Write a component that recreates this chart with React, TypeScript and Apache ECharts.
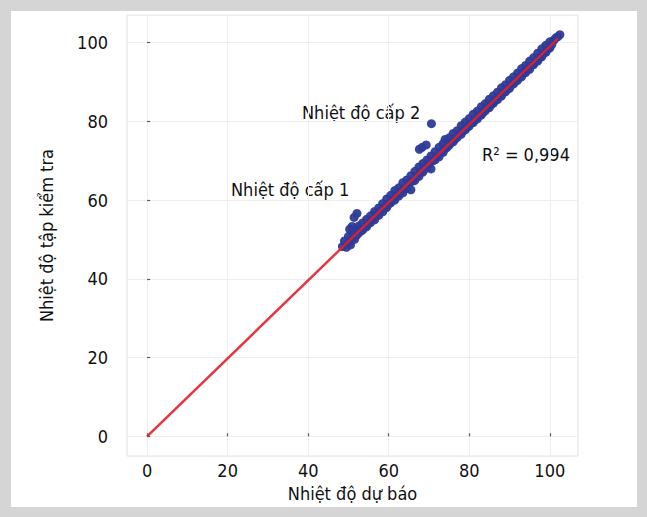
import React, { useEffect, useRef } from "react";
import * as echarts from "echarts";

const xTicks = [0, 20, 40, 60, 80, 100];
const xName = "Nhiệt độ dự báo";
const yName = "Nhiệt độ tập kiểm tra";
const label1 = "Nhiệt độ cấp 1";
const label2 = "Nhiệt độ cấp 2";
const r2Label = "R² = 0,994";

// main scatter band (predicted, test)
const bandPoints: [number, number][] = [
  [48.5, 48.2], [49, 49.6], [49.5, 48.0], [50, 50.8], [50, 49.1], [50.5, 48.6],
  [51, 51.9], [51, 50.2], [51.5, 50.0], [52, 52.6], [52, 51.0], [52.5, 53.4],
  [52.5, 51.6], [53, 52.1], [53.5, 54.2], [53.5, 52.4], [54, 53.0], [54.5, 55.1],
  [54.5, 53.2], [55, 54.0], [55.5, 56.0], [55.5, 54.3], [56, 55.2], [56.5, 57.1],
  [56.5, 55.0], [57, 56.3], [57.5, 58.0], [57.5, 56.1], [58, 57.2], [58.5, 59.1],
  [58.5, 57.0], [59, 58.2], [59.5, 60.3], [59.5, 58.1], [60, 59.0], [60.5, 61.2],
  [60.5, 59.3], [61, 60.1], [61.5, 62.4], [61.5, 60.0], [62, 61.2], [62.5, 63.1],
  [62.5, 61.0], [63, 62.2], [63.5, 64.4], [63.5, 61.8], [64, 62.8], [64.5, 65.1],
  [64.5, 63.0], [65, 64.3], [65.5, 62.6], [65.5, 66.2], [66, 64.8], [66.5, 67.3],
  [66.5, 65.0], [67, 66.1], [67.5, 68.4], [67.5, 66.0], [68, 67.2], [68.5, 69.3],
  [68.5, 67.1], [69, 68.0], [69.5, 70.2], [69.5, 68.3], [70, 69.1], [70.5, 67.9],
  [70.5, 71.2], [71, 70.0], [71.5, 72.3], [71.5, 70.2], [72, 71.1], [72.5, 73.4],
  [72.5, 71.0], [73, 72.2], [73.5, 74.3], [73.5, 72.1], [74, 75.4], [74, 73.0],
  [74.5, 73.4], [75, 75.8], [75, 73.9], [75.5, 74.6], [76, 76.9], [76, 74.8],
  [76.5, 75.5], [77, 77.6], [77, 75.9], [77.5, 76.8], [78, 78.9], [78, 76.7],
  [78.5, 77.6], [79, 79.8], [79, 77.8], [79.5, 78.5], [80, 80.7], [80, 78.8],
  [80.5, 79.6], [81, 81.8], [81, 79.7], [81.5, 80.4], [82, 82.6], [82, 80.6],
  [82.5, 81.5], [83, 83.7], [83, 81.6], [83.5, 82.3], [84, 84.5], [84, 82.7],
  [84.5, 83.4], [85, 85.6], [85, 83.5], [85.5, 84.3], [86, 86.5], [86, 84.6],
  [86.5, 85.4], [87, 87.4], [87, 85.5], [87.5, 86.3], [88, 88.5], [88, 86.4],
  [88.5, 87.4], [89, 89.3], [89, 87.5], [89.5, 88.2], [90, 90.4], [90, 88.4],
  [90.5, 89.3], [91, 91.3], [91, 89.5], [91.5, 90.2], [92, 92.3], [92, 90.4],
  [92.5, 91.3], [93, 93.4], [93, 91.3], [93.5, 92.3], [94, 94.2], [94, 92.4],
  [94.5, 93.3], [95, 95.3], [95, 93.2], [95.5, 94.3], [96, 96.2], [96, 94.4],
  [96.5, 95.2], [97, 97.3], [97, 95.3], [97.5, 96.2], [98, 98.4], [98, 96.4],
  [98.5, 97.3], [99, 99.3], [99, 97.5], [99.5, 98.4], [100, 100.2], [100, 98.6],
  [100.5, 99.5], [101, 100.6], [101.5, 101.2], [102, 101.5], [102.5, 102.0],
];

// outliers
const level1Points: [number, number][] = [
  [52.1, 56.6], [51.4, 55.6], [50.9, 53.3], [50.3, 52.6],
];
const level2Points: [number, number][] = [
  [70.6, 79.4], [68.3, 73.4], [67.6, 72.9], [69.3, 74.0],
];

// regression line endpoints
const fitLine: [number, number][] = [
  [0, 0],
  [102, 101],
];

const FONT = "'Liberation Sans Narrow', 'DejaVu Sans Condensed', 'Roboto', sans-serif";

export default function App() {
  const ref = useRef<HTMLDivElement>(null);

  useEffect(() => {
    if (!ref.current) return;
    const chart = echarts.init(ref.current, undefined, { renderer: "svg" });
    const axisCommon = {
      type: "value" as const,
      min: -5,
      max: 107,
      splitNumber: 5,
      axisLine: { show: false },
      axisTick: { show: true, inside: true, length: 3, lineStyle: { color: "#555", width: 1.2 } },
      splitLine: { show: true, lineStyle: { color: "#eeeeee", width: 1 } },
      nameLocation: "middle" as const,
      nameTextStyle: { fontFamily: FONT, fontSize: 18, color: "#111" },
    };
    chart.setOption({
      animation: false,
      backgroundColor: "transparent",
      grid: {
        left: 127,
        top: 15,
        width: 451,
        height: 441,
        show: true,
        borderColor: "#e2e2e2",
        borderWidth: 1,
        backgroundColor: "#ffffff",
      },
      xAxis: {
        ...axisCommon,
        name: xName,
        nameGap: 28,
        axisLabel: {
          fontFamily: FONT,
          fontSize: 18,
          color: "#111",
          margin: 5,
          showMinLabel: false,
          showMaxLabel: false,
          formatter: (v: number) => (xTicks.includes(v) ? String(v) : ""),
        },
      },
      yAxis: {
        ...axisCommon,
        name: yName,
        nameGap: 72,
        axisLabel: {
          fontFamily: FONT,
          fontSize: 18,
          color: "#111",
          margin: 19,
          showMinLabel: false,
          showMaxLabel: false,
          formatter: (v: number) => (xTicks.includes(v) ? String(v) : ""),
        },
      },
      series: [
        {
          type: "scatter",
          data: bandPoints,
          symbolSize: 9,
          itemStyle: { color: "#2e3b98", opacity: 0.95 },
          z: 2,
        },
        {
          type: "scatter",
          data: level1Points,
          symbolSize: 9,
          itemStyle: { color: "#2e3b98", opacity: 0.95 },
          z: 2,
        },
        {
          type: "scatter",
          data: level2Points,
          symbolSize: 9,
          itemStyle: { color: "#2e3b98", opacity: 0.95 },
          z: 2,
        },
        {
          type: "line",
          data: fitLine,
          showSymbol: false,
          symbol: "none",
          lineStyle: { color: "#e41f2a", width: 2.5, opacity: 0.9 },
          z: 5,
        },
      ],
      graphic: [
        {
          type: "text",
          left: 231,
          top: 180,
          style: { text: label1, fontFamily: FONT, fontSize: 18, fill: "#111" },
        },
        {
          type: "text",
          left: 302,
          top: 103,
          style: { text: label2, fontFamily: FONT, fontSize: 18, fill: "#111" },
        },
        {
          type: "text",
          left: 482,
          top: 145,
          style: { text: r2Label, fontFamily: FONT, fontSize: 18, fill: "#111" },
        },
      ],
    });
    return () => chart.dispose();
  }, []);

  return (
    <div style={{ position: "fixed", left: 0, top: 0, width: 647, height: 517, background: "#d5d5d5" }}>
      <div style={{ position: "absolute", left: 11, top: 11, width: 626, height: 496, background: "#ffffff" }} />
      <div ref={ref} style={{ position: "absolute", left: 0, top: 0, width: 647, height: 517 }} />
    </div>
  );
}
